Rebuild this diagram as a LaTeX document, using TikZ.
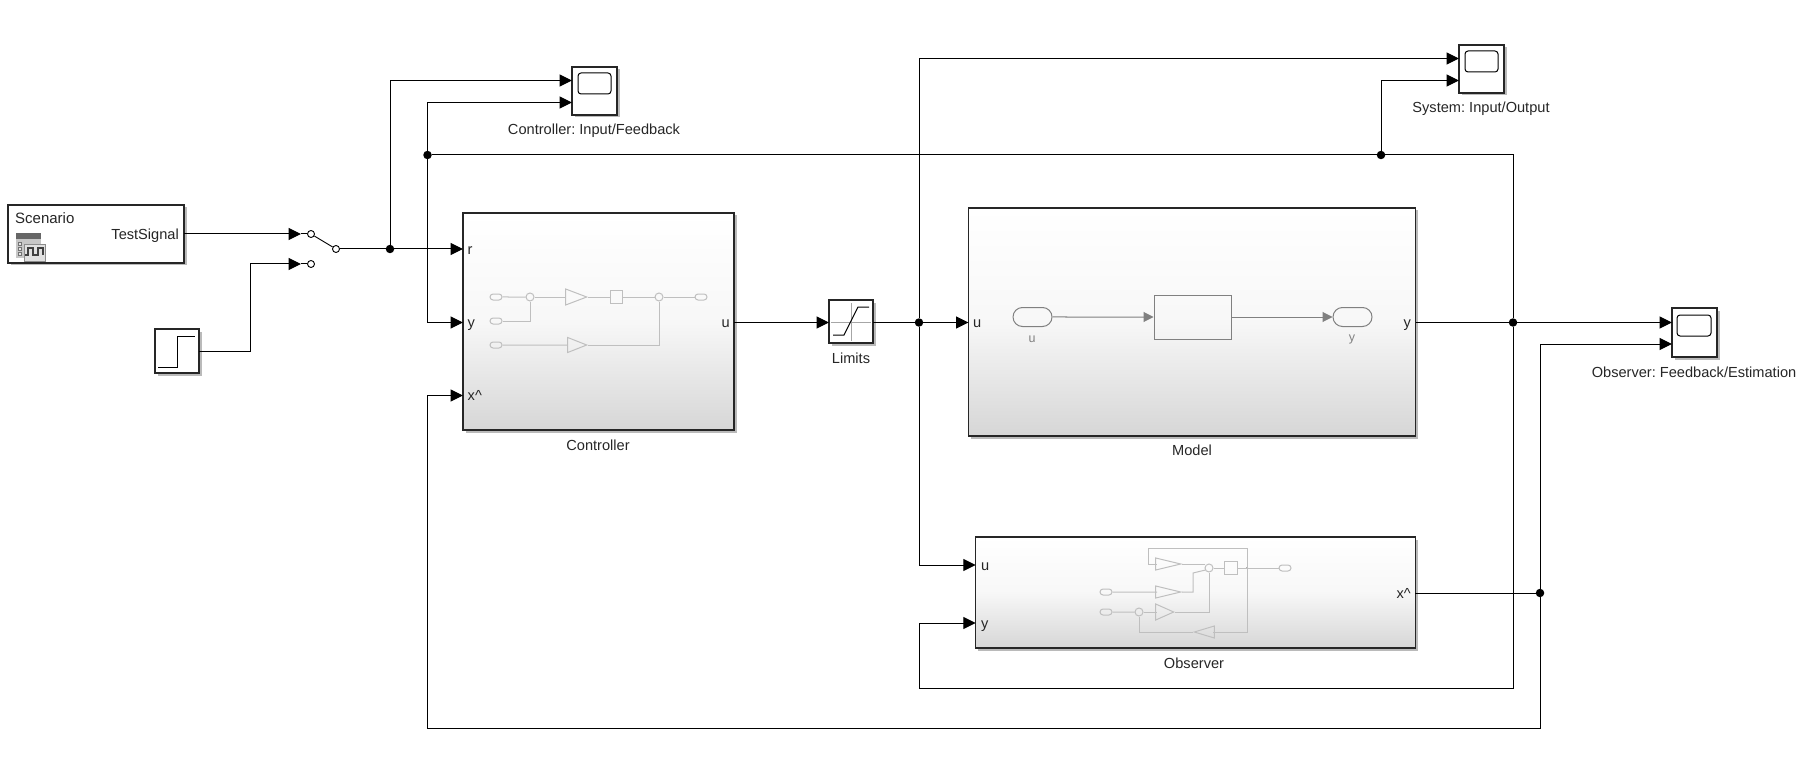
\documentclass[tikz,border=0pt]{standalone}
\usepackage{fontspec}
\setmainfont{Liberation Sans}
\usetikzlibrary{arrows.meta,shadows,shapes.geometric,shapes.misc}
\tikzset{
	block/.style={draw=black!85,line width=1.1pt,inner sep=0pt,outer sep=0pt,top color=white,bottom color=black!16,middle color=black!3,shading angle=0,drop shadow={shadow xshift=2.5pt,shadow yshift=-2.5pt,fill=black!45,opacity=.6}},
	plainblock/.style={draw=black!85,line width=1.1pt,inner sep=0pt,outer sep=0pt,fill=white,drop shadow={shadow xshift=2.5pt,shadow yshift=-2.5pt,fill=black!45,opacity=.6}},
	txt/.style={inner sep=0pt,font=\fontsize{14.6}{17}\selectfont\frenchspacing,text=black!85},
	porttxt/.style={txt,text height=13.5pt,text depth=3pt},
	signal/.style={line width=1pt,-{Triangle[length=12.5pt,width=12pt]}},
	wire/.style={line width=1pt},
	junc/.style={circle,fill=black,inner sep=0pt,minimum size=8.5pt},
	swpin/.style={circle,draw=black,fill=white,line width=.9pt,inner sep=0pt,minimum size=7pt},
	faint/.style={draw=black!25,line width=1pt},
	faintport/.style={faint,rounded rectangle,inner sep=0pt,minimum width=12pt,minimum height=6pt},
	faintsum/.style={faint,circle,inner sep=0pt,minimum size=8pt},
	faintbox/.style={faint,inner sep=0pt,minimum size=12.5pt},
	faintgain/.style={faint,isosceles triangle,isosceles triangle stretches,inner sep=0pt,anchor=apex},
	thumb/.style={draw=black!50,line width=1pt},
	thumbarrow/.style={thumb,-{Triangle[length=10pt,width=10pt]}}
}
\begin{document}
\begin{tikzpicture}[x=1pt,y=-1pt]
	\useasboundingbox (0,0) rectangle (1803,767);

	\node[plainblock,minimum width=176pt,minimum height=58pt] (Scenario) at (96,234) {};
	\node[txt,anchor=west,font=\fontsize{15}{17}\selectfont] (ScenarioName) at (15,218) {Scenario};
	\node[porttxt,anchor=east] (ScenarioOut) at (179,234) {TestSignal};
	\fill[black!22] (16,233) rectangle (41,258);
	\fill[black!60] (16,233) rectangle (41,239);
	\foreach \ypos in {242,247,252}
		\draw[black!55,fill=black!10] (18,\ypos) rectangle (21,\ypos+3);
	\draw[black!45,fill=black!12] (24,244) rectangle (45,261);
	\draw[black!75,line width=1.2pt] (25,255)--(28,255)--(28,248)--(33,248)--(33,255)--(38,255)--(38,248)--(43,248)--(43,255);

	\node[plainblock,minimum width=44pt,minimum height=44pt] (Step) at (177,351) {};
	\draw[wire] (158,367)--(177,367)--(177,336)--(195,336);

	\coordinate (SwInA) at (301,234);
	\coordinate (SwInB) at (301,264);
	\node[swpin] (SwA) at (311,234) {};
	\node[swpin] (SwB) at (311,264) {};
	\node[swpin] (SwOut) at (336,249) {};
	\draw[wire] (SwInA)--(SwA);
	\draw[wire] (SwInB)--(SwB);
	\draw[line width=.9pt] (SwA)--(SwOut);

	\node[block,minimum width=271pt,minimum height=217pt] (Controller) at (598.5,321.5) {};
	\node[porttxt,anchor=west] (ControllerR) at (467.5,249) {r};
	\node[porttxt,anchor=west] (ControllerY) at (467.5,322.5) {y};
	\node[porttxt,anchor=west] (ControllerX) at (467.5,395.5) {x\^{}};
	\node[porttxt,anchor=east] (ControllerU) at (730,322.5) {u};
	\node[txt] (ControllerName) at (598,445) {Controller};

	\node[faintport] (CtrlA) at (496,297) {};
	\node[faintport] (CtrlB) at (496,321) {};
	\node[faintport] (CtrlC) at (496,345) {};
	\node[faintsum] (CtrlSumA) at (530,297) {};
	\node[faintgain,minimum height=21pt,minimum width=16pt] (CtrlGainA) at (588,297) {};
	\node[faintbox] (CtrlInt) at (616.5,297) {};
	\node[faintsum] (CtrlSumB) at (659,297) {};
	\node[faintport] (CtrlOut) at (701,297) {};
	\node[faintgain,minimum height=19pt,minimum width=15pt] (CtrlGainB) at (588,345) {};
	\draw[faint] (CtrlA)--(CtrlSumA);
	\draw[faint] (CtrlSumA)--(CtrlGainA);
	\draw[faint] (CtrlGainA.apex)--(CtrlInt);
	\draw[faint] (CtrlInt)--(CtrlSumB);
	\draw[faint] (CtrlSumB)--(CtrlOut);
	\draw[faint] (CtrlB)-|(CtrlSumA);
	\draw[faint] (CtrlC)--(CtrlGainB);
	\draw[faint] (CtrlGainB.apex)-|(CtrlSumB);

	\node[plainblock,minimum width=44pt,minimum height=43pt] (Limits) at (851,321.5) {};
	\node[txt] (LimitsName) at (851,358) {Limits};
	\draw[black!35,line width=1pt] (831,322)--(871,322);
	\draw[black!35,line width=1pt] (851,303)--(851,341);
	\draw[wire] (833,335)--(844,335)--(858,307)--(869,307);

	\node[block,minimum width=447pt,minimum height=228pt] (Model) at (1192,322) {};
	\node[porttxt,anchor=west] (ModelU) at (973,322.5) {u};
	\node[porttxt,anchor=east] (ModelY) at (1411,322.5) {y};
	\node[txt] (ModelName) at (1192,450) {Model};
	\node[thumb,rounded rectangle,inner sep=0pt,minimum width=39pt,minimum height=19pt] (PlantU) at (1032.5,317) {};
	\node[thumb,inner sep=0pt,minimum width=77pt,minimum height=44pt] (Plant) at (1192.5,317) {};
	\node[thumb,rounded rectangle,inner sep=0pt,minimum width=39pt,minimum height=19pt] (PlantY) at (1352.5,317) {};
	\node[txt,text=black!50,font=\fontsize{12.5}{15}\selectfont] (PlantUName) at (1032,339) {u};
	\node[txt,text=black!50,font=\fontsize{12.5}{15}\selectfont] (PlantYName) at (1352,339) {y};
	\draw[thumbarrow] (PlantU)--(Plant);
	\draw[thumbarrow] (Plant)--(PlantY);

	\node[block,minimum width=439.5pt,minimum height=111pt] (Observer) at (1195.5,592.5) {};
	\node[porttxt,anchor=west] (ObserverU) at (981,565) {u};
	\node[porttxt,anchor=west] (ObserverY) at (981,623) {y};
	\node[porttxt,anchor=east] (ObserverX) at (1411,593) {x\^{}};
	\node[txt] (ObserverName) at (1194,663) {Observer};

	\node[faintsum] (ObsSumA) at (1209,568) {};
	\node[faintsum] (ObsSumB) at (1139,612) {};
	\node[faintbox] (ObsInt) at (1231,568) {};
	\node[faintport] (ObsOut) at (1285,568) {};
	\node[faintport] (ObsA) at (1106,592) {};
	\node[faintport] (ObsB) at (1106,612) {};
	\node[faintgain,minimum height=25pt,minimum width=12pt] (ObsGainA) at (1182,564) {};
	\node[faintgain,minimum height=25pt,minimum width=12pt] (ObsGainB) at (1182,592) {};
	\node[faintgain,minimum height=18pt,minimum width=16pt] (ObsGainC) at (1175,612) {};
	\node[faintgain,shape border rotate=180,minimum height=20pt,minimum width=12pt] (ObsGainD) at (1193,632) {};
	\coordinate (ObsTap) at (1247,568);
	\fill[black!60] (ObsTap) circle (1pt);
	\draw[faint] (ObsSumA)--(ObsInt);
	\draw[faint] (ObsInt)--(ObsOut);
	\draw[faint] (ObsTap)--(1247,548)--(1148,548)--(1148,564)--(1157,564);
	\draw[faint] (ObsGainA.apex)--(1205,564);
	\draw[faint] (ObsA)--(1157,592);
	\draw[faint] (ObsGainB.apex)--(1193,592)--(1193,573)--(1205.5,570);
	\draw[faint] (ObsB)--(ObsSumB);
	\draw[faint] (ObsSumB)--(1157,612);
	\draw[faint] (ObsGainC.apex)--(1209,612)--(ObsSumA);
	\draw[faint] (ObsSumB)|-(ObsGainD.apex);
	\draw[faint] (1213,632)--(1247,632)--(ObsTap);

	\node[plainblock,minimum width=45pt,minimum height=48pt] (ScopeCtrl) at (594.5,91) {};
	\draw[wire,rounded corners=3pt] (578,73) rectangle (611,94);
	\node[txt] (ScopeCtrlName) at (594,130.5) {Controller: Input/Feedback};
	\coordinate (ScopeCtrlA) at (572,80.5);
	\coordinate (ScopeCtrlB) at (572,102.5);

	\node[plainblock,minimum width=45pt,minimum height=48pt] (ScopeSys) at (1481.5,69) {};
	\draw[wire,rounded corners=3pt] (1465,51) rectangle (1498,72);
	\node[txt] (ScopeSysName) at (1481,108.5) {System: Input/Output};
	\coordinate (ScopeSysA) at (1459,58.5);
	\coordinate (ScopeSysB) at (1459,80.5);

	\node[plainblock,minimum width=45pt,minimum height=49pt] (ScopeObs) at (1694.5,332.5) {};
	\draw[wire,rounded corners=3pt] (1677,315) rectangle (1711,336);
	\node[txt] (ScopeObsName) at (1694,372) {Observer: Feedback/Estimation};
	\coordinate (ScopeObsA) at (1672,322.5);
	\coordinate (ScopeObsB) at (1672,344);

	\node[junc] (RefTap) at (390,249) {};
	\node[junc] (OutTap) at (427.5,155) {};
	\node[junc] (SysTap) at (1381,155) {};
	\node[junc] (ModelTap) at (1513,322.5) {};
	\node[junc] (CmdTap) at (919,322.5) {};
	\node[junc] (EstTap) at (1540,593) {};

	\draw[signal] (Scenario.east|-SwInA)--(SwInA);
	\draw[signal] (Step.east)-|(250,264)--(SwInB);
	\draw[wire] (SwOut)--(RefTap);
	\draw[signal] (RefTap)--(Controller.west|-ControllerR);
	\draw[signal] (RefTap)|-(ScopeCtrlA);
	\draw[signal] (OutTap)|-(ScopeCtrlB);
	\draw[signal] (OutTap)|-(Controller.west|-ControllerY);
	\draw[wire] (OutTap)--(SysTap);
	\draw[wire] (SysTap)-|(ModelTap);
	\draw[signal] (SysTap)|-(ScopeSysB);
	\draw[signal] (Controller.east|-ControllerU)--(Limits.west|-ControllerU);
	\draw[wire] (Limits.east|-CmdTap)--(CmdTap);
	\draw[signal] (CmdTap)--(Model.west|-ModelU);
	\draw[signal] (CmdTap)|-(ScopeSysA);
	\draw[signal] (CmdTap)|-(Observer.west|-ObserverU);
	\draw[wire] (Model.east|-ModelY)--(ModelTap);
	\draw[signal] (ModelTap)--(ScopeObsA);
	\draw[signal] (ModelTap)--(1513,688)--(919,688)|-(Observer.west|-ObserverY);
	\draw[wire] (Observer.east|-ObserverX)--(EstTap);
	\draw[signal] (EstTap)|-(ScopeObsB);
	\draw[signal] (EstTap)--(1540,728)--(427.5,728)|-(Controller.west|-ControllerX);
\end{tikzpicture}
\end{document}
